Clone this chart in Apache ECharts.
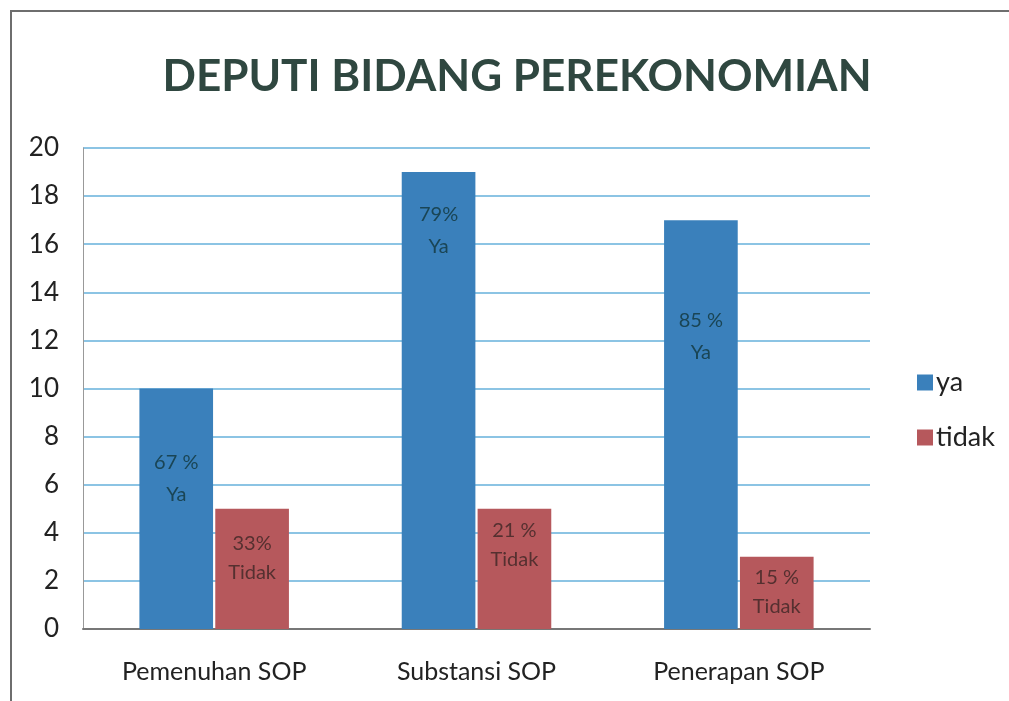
<!DOCTYPE html>
<html>
<head>
<meta charset="utf-8">
<script src="https://cdn.jsdelivr.net/npm/echarts@6/dist/echarts.min.js"></script>
<style>
  html, body { margin: 0; padding: 0; background: #fff; }
  #main { width: 1009px; height: 701px; }
</style>
</head>
<body>
<div id="main"></div>
<script>
// data
var categories = ['Pemenuhan SOP', 'Substansi SOP', 'Penerapan SOP'];
var yaValues = [10, 19, 17];
var tidakValues = [5, 5, 3];
var yaLabels = ['67 %', '79%', '85 %'];
var tidakLabels = ['33%', '21 %', '15 %'];

// the text boxes in the original sit at hand-placed heights inside each bar
var yaOffsets = [44, 12, 70];
var tidakOffsets = [6, -7, -8];

var chart = echarts.init(document.getElementById('main'));

function buildData(values, labels, word, offsets) {
  return values.map(function (v, i) {
    return {
      value: v,
      label: {
        formatter: labels[i] + '\n' + word,
        offset: [0, offsets[i]]
      }
    };
  });
}

chart.setOption({
  animation: false,
  textStyle: { fontFamily: 'Lato, "Open Sans", sans-serif' },
  title: {
    text: 'DEPUTI BIDANG PEREKONOMIAN',
    left: 512,
    textAlign: 'center',
    top: 50,
    textStyle: {
      fontSize: 44,
      fontWeight: 'bold',
      color: '#2f4740',
      fontFamily: 'Lato, sans-serif'
    }
  },
  legend: {
    orient: 'vertical',
    left: 912,
    top: 364,
    itemWidth: 16,
    itemHeight: 16,
    itemGap: 28,
    icon: 'rect',
    textStyle: { fontSize: 27, color: '#222', padding: [0, 0, 0, -2] },
    data: ['ya', 'tidak']
  },
  grid: { left: 83, right: 139, top: 148, bottom: 72 },
  xAxis: {
    type: 'category',
    data: categories,
    axisTick: { show: false },
    axisLine: { lineStyle: { color: '#777', width: 2 } },
    axisLabel: { fontSize: 25, color: '#222', margin: 30 }
  },
  yAxis: {
    type: 'value',
    min: 0,
    max: 20,
    interval: 2,
    axisLine: { show: true, lineStyle: { color: '#999', width: 1 } },
    axisTick: { show: false },
    axisLabel: { fontSize: 26, color: '#222', margin: 24 },
    splitLine: { lineStyle: { color: '#8cc4e4', width: 2 } }
  },
  series: [
    {
      name: 'ya',
      type: 'bar',
      barGap: '3%',
      barCategoryGap: '43%',
      itemStyle: { color: '#3a80bb' },
      label: {
        show: true,
        position: 'insideTop',
        distance: 14,
        fontSize: 20,
        lineHeight: 32,
        color: '#1a4555'
      },
      data: buildData(yaValues, yaLabels, 'Ya', yaOffsets)
    },
    {
      name: 'tidak',
      type: 'bar',
      itemStyle: { color: '#b6585c' },
      label: {
        show: true,
        position: 'insideTop',
        distance: 14,
        fontSize: 20,
        lineHeight: 29,
        color: '#553030'
      },
      data: buildData(tidakValues, tidakLabels, 'Tidak', tidakOffsets)
    }
  ],
  graphic: [
    {
      type: 'polyline',
      shape: { points: [[11, 701], [11, 11], [1009, 11]] },
      style: { stroke: '#6e6e6e', lineWidth: 2, fill: null }
    }
  ]
});
</script>
</body>
</html>
